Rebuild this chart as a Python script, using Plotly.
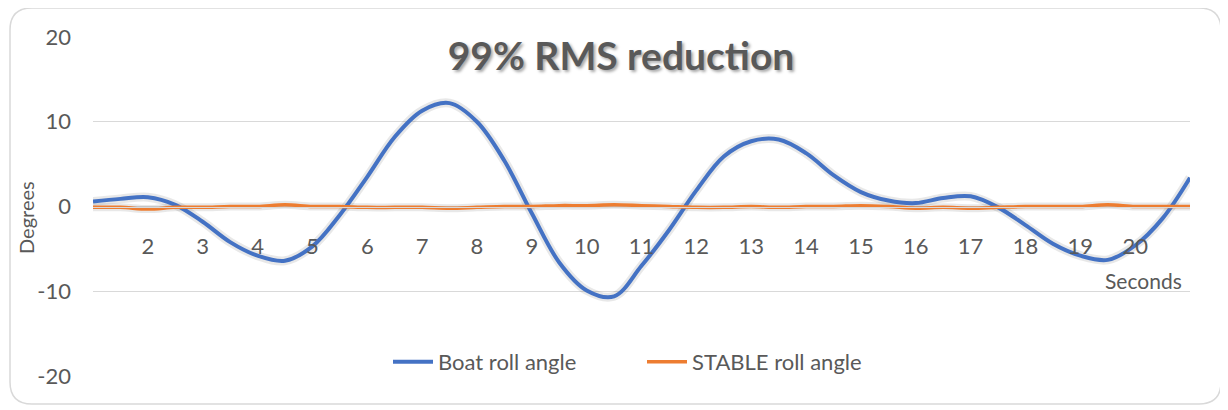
import plotly.graph_objects as go

seconds = [1 + 0.5 * i for i in range(41)]
boat_roll = [0.6, 0.9, 1.1, 0.2, -1.8, -4.2, -5.8, -6.4, -4.7, -1.0,
             3.5, 8.2, 11.3, 12.2, 10.0, 5.4, -0.8, -6.6, -9.9, -10.6,
             -7.0, -2.8, 1.9, 5.9, 7.7, 7.9, 6.3, 3.7, 1.7, 0.7,
             0.4, 1.0, 1.2, -0.1, -2.2, -4.4, -5.8, -6.3, -4.6, -1.4, 3.4]
stable_roll = [-0.1, -0.1, -0.3, -0.1, -0.1, 0.0, 0.0, 0.2, 0.0, 0.0,
               -0.1, -0.1, -0.1, -0.2, -0.1, 0.0, 0.0, 0.1, 0.1, 0.2,
               0.1, 0.0, -0.1, -0.1, 0.0, -0.1, 0.0, 0.0, 0.1, 0.0,
               -0.2, -0.1, -0.2, -0.1, 0.0, 0.0, 0.0, 0.2, 0.0, 0.0, 0.0]
x_ticks = list(range(2, 21))
y_ticks = [-20, -10, 0, 10, 20]
y_tick_labels = ["-20", "-10", "0", "10", "20"]

FONT = "Lato"
GREY = "#595959"

fig = go.Figure()
# soft shadows under the lines
fig.add_trace(go.Scatter(x=seconds, y=boat_roll, mode="lines", showlegend=False, hoverinfo="skip",
                         line=dict(color="rgba(0,0,0,0.09)", width=9, shape="spline", smoothing=1.0)))
fig.add_trace(go.Scatter(x=seconds, y=stable_roll, mode="lines", showlegend=False, hoverinfo="skip",
                         line=dict(color="rgba(0,0,0,0.09)", width=8, shape="spline", smoothing=1.0)))
fig.add_trace(go.Scatter(x=seconds, y=boat_roll, mode="lines", name="Boat roll angle",
                         line=dict(color="#4472C4", width=4, shape="spline", smoothing=1.0)))
fig.add_trace(go.Scatter(x=seconds, y=stable_roll, mode="lines", name="STABLE roll angle",
                         line=dict(color="#ED7D31", width=3.5, shape="spline", smoothing=1.0)))

OFF = 8  # page body margin
W, H = 1228 - OFF, 410 - OFF
# plot area in viewport pixels: x 93..1190, y 37..376
L, R, T, B = 93 - OFF, 1228 - 1190, 37 - OFF, 410 - 376
pw, ph = W - L - R, H - T - B

def px(x):
    return (x - 93) / pw

def py(y):
    return (376 - y) / ph

# rounded chart border
x0, x1, y0, y1 = px(10), px(1221), py(404), py(8)
rx, ry = 22 / pw, 22 / ph
path = (f"M {x0+rx},{y1} L {x1-rx},{y1} Q {x1},{y1} {x1},{y1-ry} "
        f"L {x1},{y0+ry} Q {x1},{y0} {x1-rx},{y0} L {x0+rx},{y0} "
        f"Q {x0},{y0} {x0},{y0+ry} L {x0},{y1-ry} Q {x0},{y1} {x0+rx},{y1} Z")

fig.update_layout(
    template="none",
    width=W, height=H,
    margin=dict(l=L, r=R, t=T, b=B, autoexpand=False),
    paper_bgcolor="white", plot_bgcolor="white",
    font=dict(family=FONT, color=GREY, size=21),
    title=dict(text="<b>99% RMS reduction</b>", x=(621 - OFF) / W, xref="container",
               xanchor="center", y=1 - (56 - OFF) / H, yref="container", yanchor="middle",
               font=dict(family=FONT, size=39, color=GREY, shadow="2px 2px 3px rgba(0,0,0,0.35)")),
    xaxis=dict(range=[1, 21], tickmode="array", tickvals=x_ticks, showgrid=False,
               zeroline=False, showline=True, linecolor="#d9d9d9", linewidth=1,
               anchor="free", position=0.5, ticks="", ticklabelstandoff=20, automargin=False,
               tickfont=dict(size=22, color=GREY)),
    yaxis=dict(range=[-20, 20], tickmode="array", tickvals=y_ticks, ticktext=y_tick_labels,
               showgrid=True, gridcolor="#d9d9d9", gridwidth=1.3, zeroline=False, showline=False,
               ticks="", ticklabelstandoff=21, automargin=False, tickfont=dict(size=22, color=GREY)),
    legend=dict(orientation="h", x=px(388), xanchor="left", y=py(362), yanchor="middle",
                bgcolor="rgba(0,0,0,0)", font=dict(size=22, color=GREY), itemwidth=40,
                entrywidth=199, entrywidthmode="pixels", tracegroupgap=0),
    shapes=[dict(type="path", path=path, xref="paper", yref="paper",
                 line=dict(color="#d9d9d9", width=1.5), layer="below")],
    annotations=[
        dict(text="Seconds", xref="paper", yref="paper", x=px(1184), y=py(280),
             xanchor="right", yanchor="middle", showarrow=False,
             font=dict(size=21, color=GREY)),
        dict(text="Degrees", xref="paper", yref="paper", x=px(26), y=py(218),
             xanchor="center", yanchor="middle", textangle=-90, showarrow=False,
             font=dict(size=20, color=GREY)),
    ],
)

fig.write_html("out.html")
